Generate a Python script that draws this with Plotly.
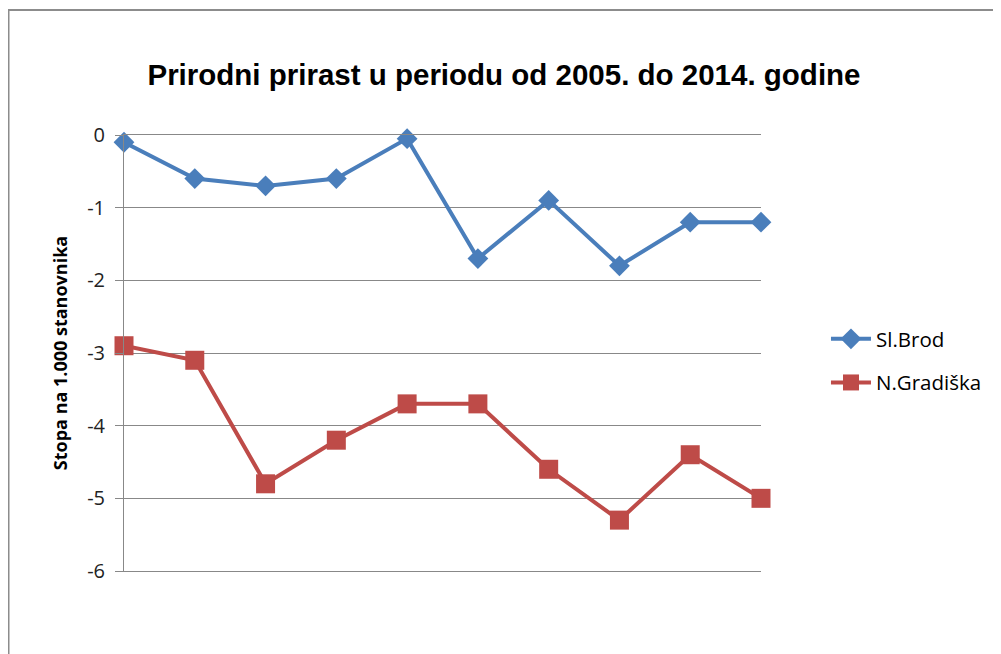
import plotly.graph_objects as go

years = ["2005", "2006", "2007", "2008", "2009", "2010", "2011", "2012", "2013", "2014"]
sl_brod = [-0.1, -0.6, -0.7, -0.6, -0.05, -1.7, -0.9, -1.8, -1.2, -1.2]
n_gradiska = [-2.9, -3.1, -4.8, -4.2, -3.7, -3.7, -4.6, -5.3, -4.4, -5.0]
y_ticks = [0, -1, -2, -3, -4, -5, -6]

xs = list(range(len(years)))

fig = go.Figure()
fig.add_trace(go.Scatter(
    x=xs, y=sl_brod, name="Sl.Brod", mode="lines+markers", legendgroup="a",
    line=dict(color="#4a7ebb", width=4),
    marker=dict(symbol="diamond", size=16, color="#4a7ebb"),
    cliponaxis=False,
))
fig.add_trace(go.Scatter(
    x=xs, y=n_gradiska, name="N.Gradiška", mode="lines+markers", legendgroup="b",
    line=dict(color="#be4b48", width=4),
    marker=dict(symbol="square", size=19, color="#be4b48"),
    cliponaxis=False,
))

fig.update_layout(
    width=1001, height=654,
    margin=dict(l=116, r=248, t=127, b=91, autoexpand=False),
    paper_bgcolor="white", plot_bgcolor="white",
    title=dict(text="<b>Prirodni prirast u periodu od 2005. do 2014. godine</b>",
               x=0.4955, xanchor="center", y=0.8976, yanchor="middle",
               font=dict(family="Liberation Sans, Arial", size=29.5, color="#000")),
    xaxis=dict(range=[0, 9], showgrid=False, zeroline=False, showticklabels=False,
               showline=True, mirror=True, linecolor="#888888", linewidth=1, ticks=""),
    yaxis=dict(range=[-6, 0], tickvals=y_ticks, ticktext=[str(v) for v in y_ticks],
               showgrid=True, gridcolor="#888888", gridwidth=1,
               zeroline=False, showline=True, linecolor="#888888", linewidth=1,
               ticks="outside", ticklen=8, tickcolor="#888888", ticklabelstandoff=6,
               tickfont=dict(family="Open Sans, Liberation Sans", size=20, color="#222"),
               title=dict(text="<b>Stopa na 1.000 stanovnika</b>",
                          font=dict(family="Open Sans, Liberation Sans", size=18, color="#000"),
                          standoff=14)),
    legend=dict(x=1.102, y=0.4817, xanchor="left", yanchor="middle",
                font=dict(family="Open Sans, Liberation Sans", size=20.5, color="#000"),
                traceorder="grouped", tracegroupgap=14, itemwidth=40,
                bgcolor="rgba(0,0,0,0)"),
    showlegend=True,
)

fig.add_shape(type="rect", xref="paper", yref="paper",
              x0=-0.1813, x1=1.6, y0=-0.5, y1=1.2867,
              line=dict(color="#8c8c8c", width=2), fillcolor="rgba(0,0,0,0)", layer="below")

fig.write_html("out.html")
